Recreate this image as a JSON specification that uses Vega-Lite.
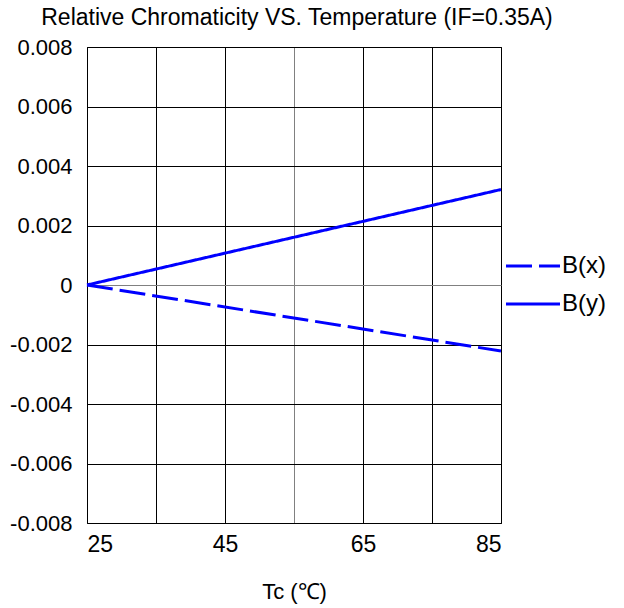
{
  "$schema": "https://vega.github.io/schema/vega-lite/v6.json",
  "width": 414,
  "height": 476,
  "autosize": {"type": "none"},
  "padding": {"left": 87, "top": 47, "right": 123, "bottom": 85},
  "title": {
    "text": "Relative Chromaticity VS. Temperature (IF=0.35A)",
    "fontSize": 23,
    "fontWeight": "normal",
    "color": "black",
    "anchor": "middle",
    "frame": "group",
    "offset": 6,
    "dx": 3
  },
  "data": {
    "values": [
      {"t": 25, "v": 0, "s": "B(x)"},
      {"t": 85, "v": -0.00222, "s": "B(x)"},
      {"t": 25, "v": 0, "s": "B(y)"},
      {"t": 85, "v": 0.00321, "s": "B(y)"}
    ]
  },
  "mark": {"type": "line", "color": "#0000FF", "strokeWidth": 3},
  "encoding": {
    "x": {
      "field": "t",
      "type": "quantitative",
      "scale": {"domain": [25, 85], "nice": false, "zero": false},
      "axis": {
        "values": [25, 35, 45, 55, 65, 75, 85],
        "labelExpr": "datum.value % 20 == 5 ? datum.label : ''",
        "title": "Tc (℃)",
        "titleFontSize": 22,
        "titleFontWeight": "normal",
        "titlePadding": 25,
        "labelFontSize": 23,
        "labelPadding": 10,
        "labelDx": 8,
        "ticks": false,
        "domain": false,
        "grid": true,
        "gridColor": {"condition": {"test": "datum.value == 55", "value": "#808080"}, "value": "#000000"},
        "gridOpacity": 1
      }
    },
    "y": {
      "field": "v",
      "type": "quantitative",
      "scale": {"domain": [-0.008, 0.008], "nice": false},
      "axis": {
        "values": [-0.008, -0.006, -0.004, -0.002, 0, 0.002, 0.004, 0.006, 0.008],
        "labelExpr": "datum.value == 0 ? '0' : replace(format(datum.value, '.3f'), '−', '-')",
        "title": null,
        "labelFontSize": 22,
        "labelPadding": 15,
        "ticks": false,
        "domain": false,
        "grid": true,
        "gridColor": {"condition": {"test": "datum.value == 0", "value": "#808080"}, "value": "#000000"},
        "gridOpacity": 1
      }
    },
    "strokeDash": {
      "field": "s",
      "type": "nominal",
      "scale": {"domain": ["B(x)", "B(y)"], "range": [[26, 7], [1, 0]]},
      "legend": {
        "title": null,
        "orient": "none",
        "legendX": 431,
        "legendY": 204,
        "symbolType": "M-2,0H2",
        "symbolSize": 729,
        "symbolStrokeWidth": 3,
        "symbolStrokeColor": "#0000FF",
        "labelFontSize": 24,
        "labelColor": "black",
        "labelOffset": 14,
        "rowPadding": 11,
        "encode": {
          "symbols": {
            "update": {
              "strokeDash": {"signal": "datum.value == 'B(x)' ? [20, 15] : [1, 0]"}
            }
          }
        }
      }
    }
  },
  "config": {
    "font": "Liberation Sans",
    "view": {"stroke": "black", "strokeWidth": 1},
    "axis": {"labelColor": "black", "titleColor": "black"}
  }
}
